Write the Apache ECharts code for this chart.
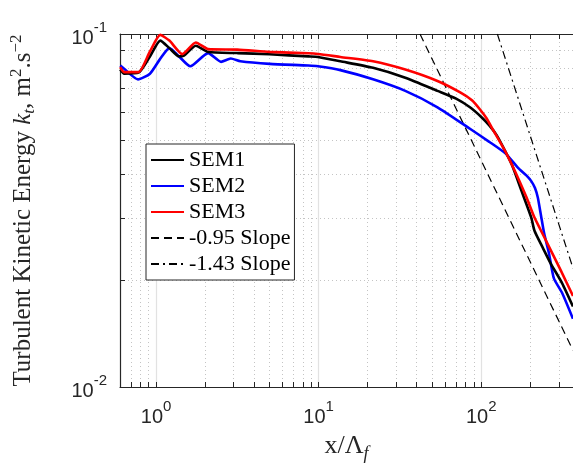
<!DOCTYPE html>
<html>
<head>
<meta charset="utf-8">
<script src="https://cdn.jsdelivr.net/npm/echarts@6/dist/echarts.min.js"></script>
<style>html,body{margin:0;padding:0;background:#fff}#c{width:573px;height:468px}</style>
</head>
<body>
<div id="c"></div>
<script>
// ---- data ----
const sem1X = [0.602, 0.636, 0.78, 0.917, 1.061, 1.207, 1.384, 1.483, 1.756, 2.09, 3.16, 4.99, 8.64, 9.9, 13.6, 21.6, 34.1, 53.8, 70, 85.2, 100, 112, 124, 134.5, 154.3, 177, 203, 212.5, 240, 267, 313.9, 366.6];
const sem1Y = [0.0793, 0.0772, 0.0777, 0.0864, 0.0958, 0.0912, 0.0864, 0.0868, 0.0926, 0.0889, 0.0883, 0.0876, 0.0864, 0.0861, 0.0837, 0.0802, 0.0752, 0.069, 0.0656, 0.062, 0.0582, 0.0551, 0.0518, 0.0484, 0.0426, 0.0359, 0.0302, 0.0277, 0.0247, 0.0224, 0.0197, 0.0169];

const sem2X = [0.602, 0.636, 0.774, 0.917, 1.052, 1.207, 1.384, 1.624, 2.09, 2.51, 2.88, 3.30, 5.0, 8.64, 9.9, 13.6, 21.6, 34.1, 53.8, 85.2, 112, 140.8, 169, 190, 203, 214, 222.7, 233, 243.8, 261, 279.7, 313.9, 366.6];
const sem2Y = [0.0814, 0.0797, 0.0744, 0.0772, 0.0846, 0.0912, 0.0864, 0.081, 0.0883, 0.0834, 0.0852, 0.0837, 0.0823, 0.0814, 0.081, 0.079, 0.0744, 0.069, 0.062, 0.0539, 0.0495, 0.0459, 0.0417, 0.0397, 0.0383, 0.0366, 0.0344, 0.0306, 0.0272, 0.0239, 0.0203, 0.0185, 0.0156];

const sem3X = [0.602, 0.636, 0.78, 0.917, 1.061, 1.207, 1.449, 1.756, 2.09, 3.16, 4.99, 8.64, 9.9, 13.6, 21.6, 34.1, 53.8, 74.2, 88, 97.7, 108, 117, 128, 140.8, 161.5, 190, 212.5, 243.8, 306.7, 366.6];
const sem3Y = [0.0806, 0.078, 0.078, 0.0892, 0.0994, 0.0958, 0.0877, 0.0946, 0.0906, 0.0903, 0.089, 0.0882, 0.0878, 0.0861, 0.0837, 0.0793, 0.0736, 0.0683, 0.0648, 0.0613, 0.0576, 0.0539, 0.0502, 0.0464, 0.0408, 0.0344, 0.0302, 0.0266, 0.0215, 0.0181];

const slope095X = [42, 366.6];
const slope095Y = [0.1, 0.0127];
const slope143X = [125.6, 366.6];
const slope143Y = [0.1, 0.0217];

const xTickValues = [0.6, 0.7, 0.8, 0.9, 1, 2, 3, 4, 5, 6, 7, 8, 9, 10, 20, 30, 40, 50, 60, 70, 80, 90, 100, 200, 300];
const xLabelValues = [1, 10, 100];
const yTickValues = [0.01, 0.02, 0.03, 0.04, 0.05, 0.06, 0.07, 0.08, 0.09, 0.1];
const yLabelValues = [0.01, 0.1];
const names = ['SEM1', 'SEM2', 'SEM3', '-0.95 Slope', '-1.43 Slope'];

// ---- chart ----
const zip = (xs, ys) => xs.map((x, i) => [x, ys[i]]);
const axisColor = '#262626';
const serif = 'Liberation Serif';
const sans = 'Liberation Sans';
const dotted = { show: true, lineStyle: { color: '#c4c4c4', width: 1, type: [1, 3] } };
const tickRich = {
  n: { fontFamily: sans, fontSize: 20, color: axisColor, lineHeight: 28, verticalAlign: 'bottom' },
  s: { fontFamily: sans, fontSize: 15, color: axisColor, lineHeight: 15, verticalAlign: 'top' }
};
const powLabel = v => {
  const e = Math.round(Math.log10(v));
  return '{n|10}{s|' + (e < 0 ? '-' + (-e) : e) + '}';
};

const chart = echarts.init(document.getElementById('c'), null, { renderer: 'canvas' });
const lineBase = (name, xs, ys, color, width, type, smooth) => ({
  name, type: 'line', data: zip(xs, ys), symbol: 'none', smooth: smooth || false,
  lineStyle: { color, width, type: type || 'solid' }, itemStyle: { color },
  xAxisIndex: 0, yAxisIndex: 0, animation: false, z: 3
});

chart.setOption({
  animation: false,
  backgroundColor: '#fff',
  grid: { left: 106, top: 34, right: 0, bottom: 76 },
  xAxis: [
    {
      type: 'log', logBase: 10, min: 0.6, max: 366.6, position: 'bottom',
      axisLine: { show: true, onZero: false, lineStyle: { color: axisColor, width: 1.2 } },
      axisTick: { show: true, inside: true, length: 5, customValues: xTickValues, lineStyle: { color: axisColor } },
      axisLabel: { show: true, customValues: xLabelValues, margin: 12, formatter: powLabel, rich: tickRich },
      splitLine: dotted, minorTick: { show: false }, minorSplitLine: { show: false },
      name: '{a|x/Λ}{f|f}', nameLocation: 'middle', nameGap: 46,
      nameTextStyle: { rich: {
        a: { fontFamily: serif, fontSize: 26, color: axisColor, lineHeight: 30, verticalAlign: 'top' },
        f: { fontFamily: serif, fontSize: 18, fontStyle: 'italic', color: axisColor, lineHeight: 18, verticalAlign: 'bottom' }
      } }
    },
    {
      type: 'log', logBase: 10, min: 0.6, max: 366.6, position: 'top',
      axisLine: { show: true, onZero: false, lineStyle: { color: axisColor, width: 1.2 } },
      axisTick: { show: true, inside: true, length: 5, customValues: xTickValues, lineStyle: { color: axisColor } },
      axisLabel: { show: false }, splitLine: { show: false }
    },
    {
      type: 'log', logBase: 10, min: 0.6, max: 366.6, position: 'bottom',
      axisLine: { show: false }, axisTick: { show: false, customValues: xLabelValues },
      axisLabel: { show: false },
      splitLine: { show: true, lineStyle: { color: '#e2e2e2', width: 1.2, type: 'solid' } }
    }
  ],
  yAxis: [
    {
      type: 'log', logBase: 10, min: 0.01, max: 0.1, position: 'left',
      axisLine: { show: true, onZero: false, lineStyle: { color: axisColor, width: 1.2 } },
      axisTick: { show: true, inside: true, length: 5, customValues: yTickValues, lineStyle: { color: axisColor } },
      axisLabel: { show: true, customValues: yLabelValues, margin: 13, formatter: powLabel, rich: tickRich },
      splitLine: dotted, minorTick: { show: false }, minorSplitLine: { show: false },
      name: 'Turbulent Kinetic Energy {k|k}{t|t}, m{s|2}.s{s|−2}', nameLocation: 'middle', nameGap: 82, nameRotate: 90,
      nameTextStyle: { fontFamily: serif, fontSize: 25, color: axisColor, rich: {
        k: { fontFamily: serif, fontSize: 25, fontStyle: 'italic', color: axisColor, lineHeight: 30 },
        t: { fontFamily: serif, fontSize: 17, fontStyle: 'italic', color: axisColor, lineHeight: 17, verticalAlign: 'bottom' },
        s: { fontFamily: serif, fontSize: 17, color: axisColor, lineHeight: 17, verticalAlign: 'top' }
      } }
    }
  ],
  legend: {
    data: names, orient: 'vertical', left: 146, top: 144,
    backgroundColor: '#fff', borderColor: axisColor, borderWidth: 1, borderRadius: 0,
    padding: [5, 4, 5, 4], itemGap: 4, itemWidth: 33, itemHeight: 14,
    itemStyle: { opacity: 0 },
    textStyle: { fontFamily: serif, fontSize: 22, color: '#000', lineHeight: 22 }
  },
  series: [
    lineBase(names[3], slope095X, slope095Y, '#000', 1.2, [8, 5]),
    lineBase(names[4], slope143X, slope143Y, '#000', 1.2, [8, 4, 2, 4]),
    lineBase(names[1], sem2X, sem2Y, '#0000ff', 2.6, null, 0.2),
    lineBase(names[0], sem1X, sem1Y, '#000000', 2.6, null, 0.2),
    lineBase(names[2], sem3X, sem3Y, '#ff0000', 2.6, null, 0.2)
  ]
});
</script>
</body>
</html>
